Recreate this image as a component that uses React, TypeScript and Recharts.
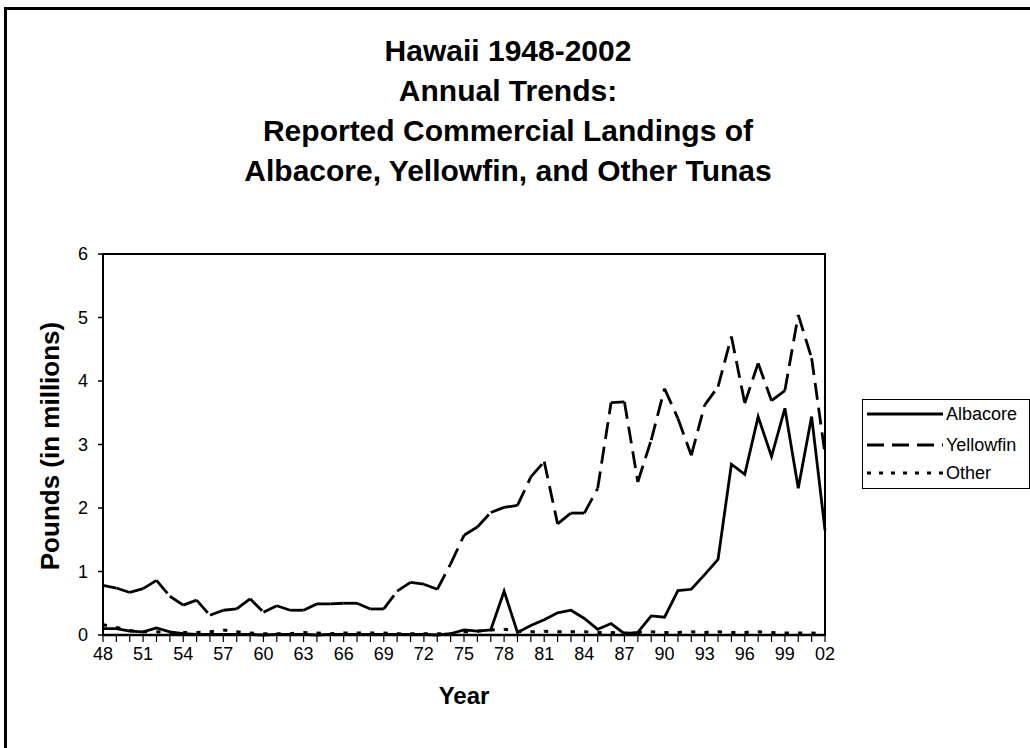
import React from 'react';
import { LineChart, Line, XAxis, YAxis, ReferenceArea } from 'recharts';

const years = ['48','49','50','51','52','53','54','55','56','57','58','59','60','61','62','63','64','65','66','67','68','69','70','71','72','73','74','75','76','77','78','79','80','81','82','83','84','85','86','87','88','89','90','91','92','93','94','95','96','97','98','99','00','01','02'];

const albacore = [0.10,0.10,0.06,0.05,0.11,0.05,0.02,0.01,0.01,0.01,0.01,0.01,0.00,0.01,0.01,0.01,0.00,0.01,0.01,0.01,0.01,0.01,0.01,0.01,0.01,0.00,0.02,0.08,0.06,0.08,0.69,0.04,0.15,0.24,0.35,0.39,0.26,0.09,0.18,0.02,0.04,0.30,0.28,0.70,0.72,0.95,1.19,2.69,2.53,3.44,2.81,3.57,2.31,3.44,1.65];

const yellowfin = [0.78,0.74,0.67,0.73,0.86,0.61,0.47,0.55,0.31,0.39,0.41,0.57,0.36,0.46,0.39,0.39,0.49,0.49,0.50,0.50,0.41,0.41,0.69,0.83,0.80,0.72,1.12,1.57,1.70,1.93,2.01,2.04,2.49,2.73,1.75,1.92,1.92,2.31,3.66,3.67,2.41,3.07,3.88,3.41,2.83,3.62,3.91,4.70,3.65,4.28,3.69,3.85,5.04,4.36,2.85];

const other = [0.16,0.12,0.07,0.05,0.05,0.04,0.04,0.04,0.05,0.08,0.05,0.03,0.02,0.02,0.02,0.04,0.03,0.02,0.03,0.03,0.03,0.03,0.02,0.02,0.02,0.02,0.02,0.05,0.06,0.08,0.09,0.06,0.05,0.06,0.05,0.05,0.05,0.04,0.04,0.03,0.04,0.05,0.04,0.04,0.05,0.04,0.05,0.04,0.04,0.05,0.04,0.03,0.03,0.03,0.02];

const yTicks = [0, 1, 2, 3, 4, 5, 6];
const titleLines = ['Hawaii 1948-2002', 'Annual Trends:', 'Reported Commercial Landings of', 'Albacore, Yellowfin, and Other Tunas'];
const seriesNames = ['Albacore', 'Yellowfin', 'Other'];
const yLabel = 'Pounds (in millions)';
const xLabel = 'Year';

const data = years.map((y, i) => ({ year: y, Albacore: albacore[i], Yellowfin: yellowfin[i], Other: other[i] }));

const FONT = '"Liberation Sans", Arial, Helvetica, sans-serif';

// Draw each segment separately so the dash pattern restarts at every data point
function segmentDot(dash: string, width: number) {
  return (props: any) => {
    const { cx, cy, index, points } = props;
    if (!points || index === 0 || cx == null) return <g key={`seg-${index}`} />;
    const p = points[index - 1];
    return (
      <line
        key={`seg-${index}`}
        x1={p.x}
        y1={p.y}
        x2={cx}
        y2={cy}
        stroke="#000"
        strokeWidth={width}
        strokeDasharray={dash}
        fill="none"
      />
    );
  };
}

const XTick = (props: any) => {
  const { x, y, payload } = props;
  const i = years.indexOf(payload.value);
  if (i % 3 !== 0) return <g />;
  return (
    <text x={x} y={y} dy="0.71em" textAnchor="middle" fontFamily={FONT} fontSize={18} fill="#000">
      {payload.value}
    </text>
  );
};

const legendStyles = [
  { dash: undefined as string | undefined, width: 2.8 },
  { dash: '17 8', width: 2.8 },
  { dash: '4 8', width: 3 },
];

export default function App() {
  return (
    <div style={{ position: 'absolute', left: 0, top: 0, width: 1030, height: 748, overflow: 'hidden', background: '#fff', fontFamily: FONT }}>
      <div style={{ position: 'absolute', left: 4, top: 7, width: 1100, height: 800, border: '3px solid #000', boxSizing: 'border-box' }} />
      <svg width={1030} height={748} style={{ position: 'absolute', left: 0, top: 0 }}>
        {titleLines.map((t, i) => (
          <text key={t} x={508} y={61 + i * 40} textAnchor="middle" fontFamily={FONT} fontWeight="bold" fontSize={30} fill="#000">
            {t}
          </text>
        ))}
        <text x={0} y={0} transform="translate(59,446) rotate(-90)" textAnchor="middle" fontFamily={FONT} fontWeight="bold" fontSize={26} fill="#000">
          {yLabel}
        </text>
        <text x={464} y={704} textAnchor="middle" fontFamily={FONT} fontWeight="bold" fontSize={24} fill="#000">
          {xLabel}
        </text>
      </svg>
      <div style={{ position: 'absolute', left: 0, top: 0 }}>
        <LineChart width={1030} height={748} data={data} margin={{ top: 254, right: 205, bottom: 83, left: 43 }}>
          <ReferenceArea x1="48" x2="02" y1={0} y2={6} fill="none" fillOpacity={0} stroke="#000" strokeWidth={2} ifOverflow="visible" />
          <XAxis
            dataKey="year"
            interval={0}
            height={30}
            tick={<XTick />}
            tickSize={7}
            tickMargin={5}
            axisLine={{ stroke: '#000', strokeWidth: 2.5 }}
            tickLine={{ stroke: '#000', strokeWidth: 1.2 }}
          />
          <YAxis
            type="number"
            domain={[0, 6]}
            ticks={yTicks}
            width={60}
            tickSize={5}
            tickMargin={10}
            axisLine={{ stroke: '#000', strokeWidth: 2 }}
            tickLine={{ stroke: '#000', strokeWidth: 1.5 }}
            tick={{ fontFamily: FONT, fontSize: 18, fill: '#000' }}
          />
          <Line dataKey="Albacore" stroke="#000" strokeWidth={2.8} dot={false} isAnimationActive={false} />
          <Line dataKey="Yellowfin" stroke="none" strokeWidth={2.8} dot={segmentDot('17 8', 2.8)} activeDot={false} isAnimationActive={false} />
          <Line dataKey="Other" stroke="none" strokeWidth={3} dot={segmentDot('4 9', 3)} activeDot={false} isAnimationActive={false} />
        </LineChart>
      </div>
      <div style={{ position: 'absolute', left: 862, top: 399, width: 168, height: 90, border: '1px solid #000', boxSizing: 'border-box', background: '#fff' }}>
        <svg width={168} height={90} style={{ position: 'absolute', left: -1, top: -1 }}>
          {seriesNames.map((n, i) => {
            const cy = [15, 46, 74][i];
            const s = legendStyles[i];
            return (
              <g key={n}>
                <line x1={5} x2={81} y1={cy} y2={cy} stroke="#000" strokeWidth={s.width} strokeDasharray={s.dash} />
                <text x={84} y={cy} dy="0.35em" fontFamily={FONT} fontSize={18} fill="#000">
                  {n}
                </text>
              </g>
            );
          })}
        </svg>
      </div>
    </div>
  );
}
